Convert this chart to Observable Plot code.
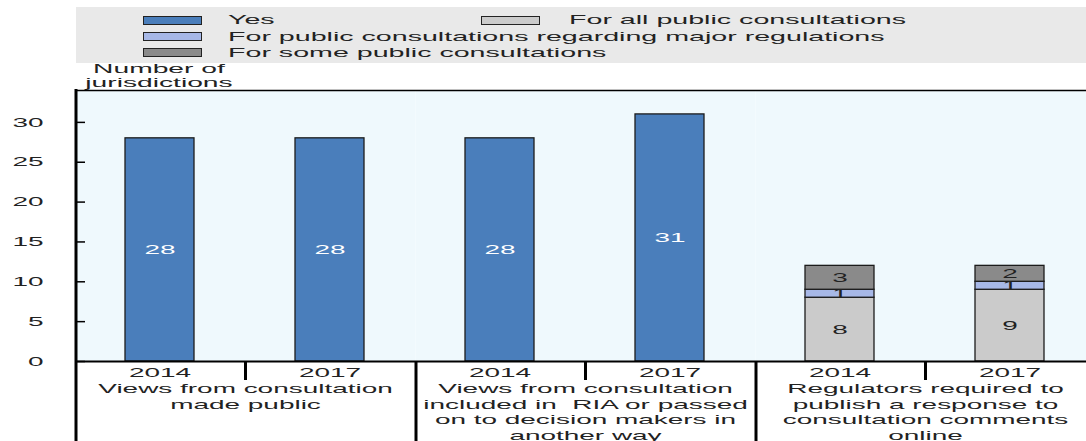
<!DOCTYPE html>
<html>
<head>
<meta charset="utf-8">
<script src="https://cdn.jsdelivr.net/npm/d3@7"></script>
<script src="https://cdn.jsdelivr.net/npm/@observablehq/plot@0.6"></script>
<style>
  html, body { margin: 0; padding: 0; background: #fff; overflow: hidden; }
  #wrap { position: relative; width: 1086px; height: 441px; overflow: hidden;
          font-family: "Liberation Sans", Arial, sans-serif; font-size: 13px; color: #222; }
  #legend { position: absolute; left: 76px; top: 7px; width: 1010px; height: 56px; background: #e9e9e9; }
  .sw { position: absolute; width: 57px; height: 7px; border: 1px solid #222; }
  .lt { position: absolute; line-height: 14px; white-space: nowrap; transform: scaleX(2.2); transform-origin: 0 50%; }
  #ylab { position: absolute; left: 109px; top: 62px; width: 100px; text-align: center; line-height: 13.5px;
          transform: scaleX(2.17); transform-origin: 50% 50%; white-space: nowrap; }
  #chart { position: absolute; left: 0; top: 88px; }
</style>
</head>
<body>
<div id="wrap">
  <div id="legend"></div>
  <div id="ylab">Number of<br>jurisdictions</div>
  <div id="chart"></div>
</div>
<script>
// ---- data ----
const groups = [
  "Views from consultation\nmade public",
  "Views from consultation\nincluded in  RIA or passed\non to decision makers in\nanother way",
  "Regulators required to\npublish a response to\nconsultation comments\nonline"
];
const years = ["2014", "2017"];
const series = ["Yes", "For all public consultations", "For public consultations regarding major regulations", "For some public consultations"];
const colors = ["#4a7ebb", "#cbcbcb", "#a7b8e7", "#8a8a8a"];
// "Yes" values: group 1 (2014, 2017), group 2 (2014, 2017)
const yesValues = [28, 28, 28, 31];
// group 3 (2014, 2017)
const allValues = [8, 9];
const majorValues = [1, 1];
const someValues = [3, 2];
const yTicks = [0, 5, 10, 15, 20, 25, 30];
const yMax = 34;

// ---- table ----
const rows = [];
yesValues.forEach((v, i) => rows.push({group: groups[Math.floor(i / 2)], year: years[i % 2], series: series[0], value: v}));
years.forEach((yr, i) => {
  rows.push({group: groups[2], year: yr, series: series[1], value: allValues[i]});
  rows.push({group: groups[2], year: yr, series: series[2], value: majorValues[i]});
  rows.push({group: groups[2], year: yr, series: series[3], value: someValues[i]});
});
const yesRows = rows.filter(d => d.series === series[0]);
const otherRows = rows.filter(d => d.series !== series[0]);

// ---- legend ----
const legendItems = [
  {s: 0, col: 0, row: 0}, {s: 1, col: 1, row: 0},
  {s: 2, col: 0, row: 1}, {s: 3, col: 0, row: 2}
];
const colSw = [67, 405], colTx = [152, 493], rowC = [13, 29.5, 45.5];
const legend = document.getElementById("legend");
legendItems.forEach(it => {
  const sw = document.createElement("div");
  sw.className = "sw";
  sw.style.left = colSw[it.col] + "px";
  sw.style.top = (rowC[it.row] - 4.5) + "px";
  sw.style.background = colors[it.s];
  legend.appendChild(sw);
  const tx = document.createElement("span");
  tx.className = "lt";
  tx.style.left = colTx[it.col] + "px";
  tx.style.top = (rowC[it.row] - 7) + "px";
  tx.textContent = series[it.s];
  legend.appendChild(tx);
});

// ---- chart ----
const stackOpts = {fx: "group", x: "year", y: "value", z: "series"};
const plot = Plot.plot({
  width: 1086,
  height: 353,
  marginTop: 2,
  marginBottom: 80,
  marginLeft: 75,
  marginRight: -9,
  style: {fontFamily: "Liberation Sans, Arial, sans-serif", fontSize: "13px", color: "#222", background: "transparent", overflow: "hidden"},
  x: {domain: years, paddingInner: 0.594, paddingOuter: 0.297, align: 0.5, label: null},
  fx: {domain: groups, padding: 0, label: null},
  y: {domain: [0, yMax], label: null},
  color: {domain: series, range: colors},
  marks: [
    Plot.frame({fill: "#eff9fd", stroke: "none"}),
    Plot.barY(rows, Plot.stackY({...stackOpts, fill: "series", stroke: "#1c1c1c", strokeWidth: 1.3})),
    Plot.text(yesRows, Plot.stackY({...stackOpts, text: d => String(d.value), fill: "white"})),
    Plot.text(otherRows, Plot.stackY({...stackOpts, text: d => String(d.value), fill: "#222"})),
    Plot.ruleY([0], {stroke: "#000", strokeWidth: 2}),
    Plot.ruleY([yMax], {stroke: "#000", strokeWidth: 1.5}),
    Plot.axisY(yTicks, {tickSize: -10, tickPadding: 42, strokeWidth: 1.5, stroke: "#000", fill: "#222", label: null}),
    Plot.axisX({tickSize: 0, tickPadding: 6, fill: "#222", label: null}),
    Plot.axisFx({anchor: "bottom", tickSize: 19, tickPadding: 1, strokeWidth: 3, stroke: "#000", fill: "#222", lineHeight: 1.22, label: null})
  ]
});

// frame left edge and group separators, positioned from Plot's own scales
const fxs = plot.scale("fx");
const ys = plot.scale("y");
const svg = d3.select(plot);
const H = +plot.getAttribute("height");
groups.forEach((g, i) => {
  const gx = fxs.apply(g) + 1;
  svg.append("line")
    .attr("x1", gx).attr("x2", gx)
    .attr("y1", i === 0 ? ys.apply(yMax) - 1 : ys.apply(0))
    .attr("y2", H)
    .attr("stroke", "#000").attr("stroke-width", 3);
});

// horizontal stretch of the typography, like the reference
plot.querySelectorAll("text").forEach(t => {
  const tr = t.getAttribute("transform") || "";
  t.setAttribute("transform", tr + " scale(2.15,1)");
});

document.getElementById("chart").appendChild(plot);
</script>
</body>
</html>
